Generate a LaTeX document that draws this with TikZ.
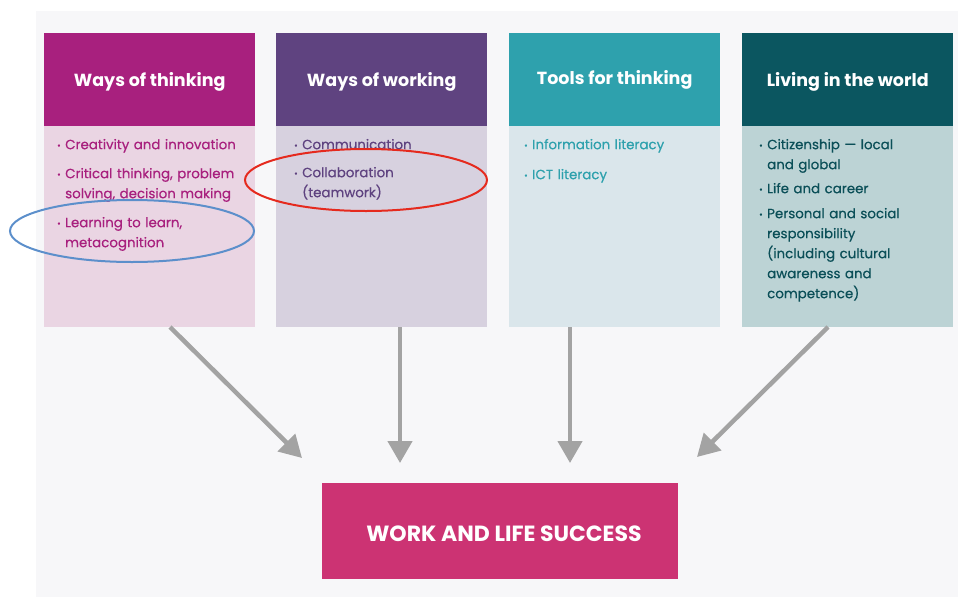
\documentclass[tikz,border=0pt]{standalone}
\usepackage{fontspec}
\setmainfont{Poppins}
\newfontfamily\bodyfont{Poppins}[FakeBold=0.5]
\usetikzlibrary{arrows.meta,calc}

\definecolor{panelbg}{HTML}{F7F7F9}
\definecolor{thinkH}{HTML}{A8207E}
\definecolor{thinkB}{HTML}{EAD5E3}
\definecolor{workH}{HTML}{5F4380}
\definecolor{workB}{HTML}{D7D1DF}
\definecolor{toolH}{HTML}{2EA1AD}
\definecolor{toolB}{HTML}{DAE6EB}
\definecolor{liveH}{HTML}{0B5660}
\definecolor{liveB}{HTML}{BCD3D5}
\definecolor{liveT}{HTML}{0B4F58}
\definecolor{successbox}{HTML}{CC3373}
\definecolor{arrowgray}{HTML}{A3A3A3}
\definecolor{markred}{HTML}{E52A1E}
\definecolor{markblue}{HTML}{5C8FCB}

% one bulleted entry with a hanging indent; lines inside it break with \newline
\newcommand{\bitem}[1]{\par\hangindent=8pt\hangafter=1\noindent
  \makebox[8pt][l]{\raisebox{0.8pt}{\fontsize{8.5}{8}\selectfont •}}#1\par}
% a title whose baseline sits #1 below the middle of its box
\newcommand{\settitle}[2]{\raisebox{-#1}[0pt][0pt]{#2}}

\tikzset{
  header/.style={fill=#1, draw=none, minimum width=211pt, minimum height=93pt,
    anchor=north west, inner sep=0pt, text=white,
    font=\fontsize{17.5}{20}\selectfont\bfseries},
  panel/.style={fill=#1, draw=none, minimum width=211pt, minimum height=201pt,
    anchor=north west, inner sep=0pt},
  bodytext/.style={anchor=north west, inner sep=0pt, text width=200pt, align=left,
    text=#1, font=\bodyfont\fontsize{13.4}{20}\selectfont},
  flow/.style={draw=arrowgray, line width=4.5pt,
    -{Triangle[width=24pt,length=22pt]}},
  mark/.style={draw=#1, line width=2pt}
}

\begin{document}
\begin{tikzpicture}[x=1pt,y=-1pt]
  \useasboundingbox (0,0) rectangle (958,597);
  \fill[panelbg] (36,11) rectangle (958,597);

  % column panels and headers
  \node[panel=thinkB] (p1) at (44,126) {};
  \node[panel=workB]  (p2) at (276,126) {};
  \node[panel=toolB]  (p3) at (509,126) {};
  \node[panel=liveB]  (p4) at (742,126) {};

  \node[header=thinkH] (h1) at (44,33) {\settitle{6.6pt}{Ways of thinking}};
  \node[header=workH]  (h2) at (276,33) {\settitle{6.6pt}{Ways of working}};
  \node[header=toolH]  (h3) at (509,33) {\settitle{4.6pt}{Tools for thinking}};
  \node[header=liveH]  (h4) at (742,33) {\settitle{6.6pt}{Living in the world}};

  % column contents
  \node[bodytext=thinkH] (t1) at (57,129) {%
    \bitem{Creativity and innovation}\vspace{9pt}
    \bitem{Critical thinking, problem\newline solving, decision making}\vspace{9pt}
    \bitem{Learning to learn,\newline metacognition}};
  \node[bodytext=workH] (t2) at (294,129) {%
    \bitem{Communication}\vspace{8pt}
    \bitem{Collaboration\newline (teamwork)}};
  \node[bodytext=toolH] (t3) at (524,129) {%
    \bitem{Information literacy}\vspace{10pt}
    \bitem{ICT literacy}};
  \node[bodytext=liveT] (t4) at (759,129) {%
    \bitem{Citizenship — local\newline and global}\vspace{4pt}
    \bitem{Life and career}\vspace{5pt}
    \bitem{Personal and social\newline responsibility\newline (including cultural\newline awareness and\newline competence)}};

  % outcome box
  \node[fill=successbox, minimum width=356pt, minimum height=96pt, inner sep=0pt,
        text=white, font=\fontsize{22}{24}\selectfont\bfseries] (goal) at (500,531)
        {\hspace*{8pt}\settitle{10.9pt}{WORK AND LIFE SUCCESS}};

  % connectors into the outcome
  \coordinate (s1) at (170,327);
  \coordinate (e1) at (302,458);
  \coordinate (s2) at (400,327);
  \coordinate (e2) at (400,463);
  \coordinate (s3) at (570,327);
  \coordinate (e3) at (570,463);
  \coordinate (s4) at (828,327);
  \coordinate (e4) at (697,457);
  \draw[flow] (s1) -- (e1);
  \draw[flow] (s2) -- (e2);
  \draw[flow] (s3) -- (e3);
  \draw[flow] (s4) -- (e4);

  % hand-drawn highlight rings
  \draw[mark=markred]  (366,180) ellipse [x radius=121, y radius=31];
  \draw[mark=markblue] (132,231) ellipse [x radius=122, y radius=31];
\end{tikzpicture}
\end{document}
